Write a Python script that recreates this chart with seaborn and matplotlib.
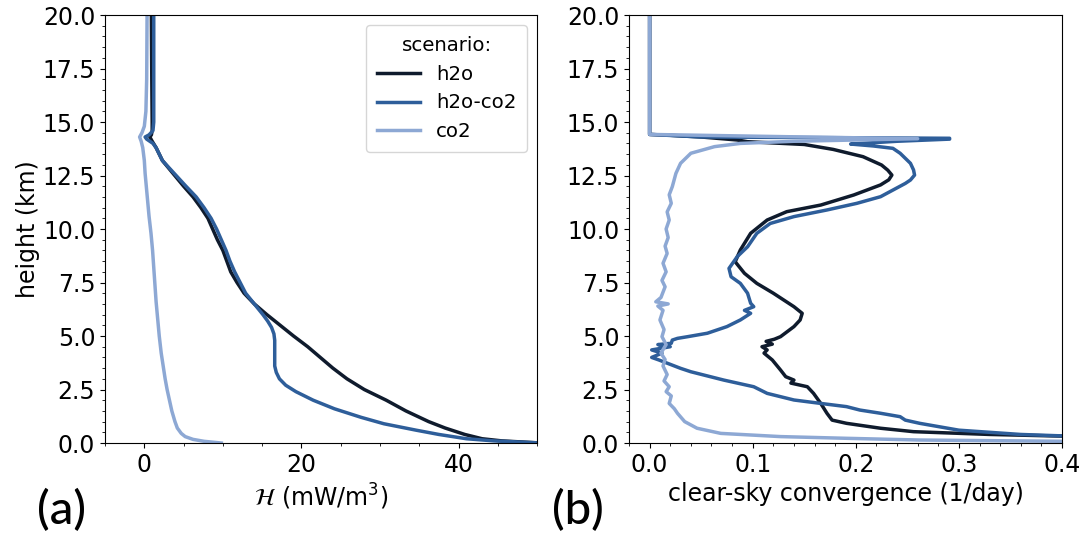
import numpy as np
import pandas as pd
import matplotlib
matplotlib.use("Agg")
import matplotlib.pyplot as plt
from matplotlib.ticker import MultipleLocator, FormatStrFormatter
import seaborn as sns

plt.rcParams["font.family"] = ["DejaVu Sans"]
plt.rcParams["font.size"] = 17
plt.rcParams["mathtext.fontset"] = "dejavusans"

scenarios = ["h2o", "h2o-co2", "co2"]
colors = {"h2o": "#0f1b2d", "h2o-co2": "#2e5e9a", "co2": "#8da8d4"}

# ---- panel (a): heating profiles H (mW/m^3) vs height (km)
a_h2o_z = [20, 17, 15, 14.6, 14.4, 14.3, 14.1, 13.8, 13.5, 13.2, 12.8, 12.4, 12.0,
           11.5, 11.0, 10.5, 10.0, 9.5, 9.0, 8.5, 8.0, 7.5, 7.0, 6.5, 6.0, 5.5,
           5.0, 4.5, 4.0, 3.5, 3.0, 2.5, 2.0, 1.5, 1.0, 0.7, 0.4, 0.2, 0.1, 0.0]
a_h2o_H = [0.9, 0.95, 1.0, 1.0, 0.9, 0.7, 1.0, 1.5, 1.9, 2.3, 3.2, 4.1, 5.0,
           6.2, 7.2, 8.1, 8.7, 9.3, 10.0, 10.5, 11.0, 11.8, 12.7, 14.0, 15.6, 17.3,
           19.0, 20.8, 22.4, 24.0, 25.8, 28.0, 30.8, 33.3, 36.2, 38.3, 40.8, 43.0, 45.5, 50.5]

a_mix_z = [20, 17, 15, 14.6, 14.4, 14.3, 14.2, 14.0, 13.8, 13.5, 13.2, 12.8, 12.4,
           12.0, 11.5, 11.0, 10.5, 10.0, 9.5, 9.0, 8.5, 8.0, 7.5, 7.0, 6.5, 6.0,
           5.7, 5.4, 5.1, 4.8, 4.5, 4.0, 3.6, 3.3, 3.0, 2.7, 2.4, 2.0, 1.6, 1.2,
           0.9, 0.6, 0.4, 0.2, 0.1, 0.0]
a_mix_H = [1.2, 1.2, 1.2, 1.1, 0.6, 0.1, 0.3, 1.1, 1.5, 1.9, 2.3, 3.3, 4.3,
           5.3, 6.6, 7.6, 8.5, 9.2, 9.8, 10.4, 10.9, 11.5, 12.2, 12.9, 14.0, 15.1,
           15.7, 16.2, 16.5, 16.6, 16.6, 16.6, 16.6, 16.8, 17.2, 18.0, 19.3, 21.5, 24.2, 27.6,
           30.5, 34.6, 37.5, 41.0, 44.5, 50.5]

a_co2_z = [20, 17, 15.5, 14.8, 14.5, 14.3, 14.1, 13.8, 13.2, 12.6, 12.0, 11.4, 10.6,
           9.8, 9.0, 8.2, 7.4, 6.6, 5.8, 5.0, 4.2, 3.6, 3.0, 2.5, 2.0, 1.5, 1.0,
           0.7, 0.45, 0.3, 0.17, 0.08, 0.0]
a_co2_H = [0.35, 0.3, 0.2, 0.0, -0.3, -0.6, -0.4, -0.2, 0.0, 0.1, 0.25, 0.4, 0.6,
           0.85, 1.05, 1.2, 1.35, 1.5, 1.7, 1.9, 2.15, 2.4, 2.65, 2.9, 3.2, 3.5, 3.9,
           4.2, 4.7, 5.2, 6.2, 7.6, 9.8]

# ---- panel (b): clear-sky convergence (1/day) vs height (km)
b_h2o_z = [20, 14.42, 14.38, 14.3, 14.16, 14.08, 13.95, 13.72, 13.38, 12.99, 12.75,
           12.52, 12.3, 12.06, 11.59, 11.12, 10.81, 10.42, 9.80, 9.02, 8.47, 7.93,
           7.46, 7.0, 6.37, 6.06, 5.75, 5.44, 4.97, 4.85, 4.75, 4.62, 4.5, 4.35,
           4.2, 3.88, 3.41, 3.1, 2.94, 2.8, 2.63, 2.32, 1.85, 1.39, 1.07, 0.92,
           0.69, 0.53, 0.4, 0.3, 0.1, 0.0]
b_h2o_v = [0, 0, 0.02, 0.05, 0.085, 0.095, 0.15, 0.178, 0.207, 0.225, 0.231,
           0.235, 0.232, 0.224, 0.198, 0.166, 0.133, 0.114, 0.098, 0.088, 0.083, 0.092,
           0.104, 0.120, 0.140, 0.148, 0.146, 0.140, 0.127, 0.121, 0.113, 0.119, 0.109, 0.114,
           0.111, 0.119, 0.127, 0.132, 0.140, 0.137, 0.153, 0.159, 0.166, 0.172, 0.177, 0.191,
           0.224, 0.256, 0.33, 0.42, 0.7, 0.9]

b_mix_z = [20, 14.42, 14.3, 14.24, 14.2, 14.1, 13.97, 13.88, 13.77, 13.54, 13.07,
           12.76, 12.52, 12.29, 12.13, 11.82, 11.51, 11.2, 10.89, 10.58, 10.26, 9.80,
           9.17, 8.71, 8.16, 7.77, 7.46, 7.0, 6.53, 6.37, 6.2, 6.06, 5.75, 5.44,
           5.13, 4.97, 4.89, 4.81, 4.66, 4.6, 4.5, 4.35, 4.2, 4.0, 3.88, 3.49,
           3.33, 2.94, 2.63, 2.32, 2.01, 1.85, 1.70, 1.54, 1.39, 1.23, 1.07, 0.92,
           0.6, 0.4, 0.25, 0.0]
b_mix_v = [0, 0, 0.05, 0.291, 0.291, 0.24, 0.195, 0.217, 0.236, 0.243, 0.253,
           0.256, 0.257, 0.253, 0.248, 0.236, 0.224, 0.201, 0.172, 0.140, 0.117, 0.104,
           0.095, 0.085, 0.077, 0.079, 0.088, 0.095, 0.098, 0.101, 0.092, 0.098, 0.088, 0.075,
           0.056, 0.037, 0.027, 0.022, 0.021, 0.008, 0.020, 0.002, 0.012, 0.002, 0.009, 0.030,
           0.040, 0.072, 0.101, 0.114, 0.140, 0.166, 0.191, 0.204, 0.224, 0.243, 0.248, 0.262,
           0.30, 0.36, 0.45, 0.9]

b_co2_z = [20, 14.42, 14.3, 14.22, 14.1, 14.0, 13.85, 13.54, 13.07, 12.6, 11.98,
           11.6, 11.2, 10.8, 10.42, 10.0, 9.6, 9.2, 8.86, 8.4, 8.0, 7.6, 7.3, 6.8,
           6.6, 6.5, 6.4, 6.2, 5.75, 5.3, 4.97, 4.6, 4.2, 3.9, 3.6, 3.2, 2.9,
           2.63, 2.4, 2.2, 1.85, 1.6, 1.39, 1.0, 0.69, 0.45, 0.30, 0.22, 0.14,
           0.08, 0.0]
b_co2_v = [0, 0, 0.15, 0.26, 0.14, 0.088, 0.063, 0.040, 0.030, 0.0255, 0.022,
           0.019, 0.021, 0.017, 0.019, 0.016, 0.018, 0.015, 0.017, 0.013, 0.016, 0.012, 0.015, 0.011,
           0.006, 0.018, 0.008, 0.013, 0.010, 0.014, 0.012, 0.016, 0.011, 0.015, 0.013, 0.017, 0.014,
           0.019, 0.016, 0.021, 0.019, 0.024, 0.027, 0.034, 0.046, 0.069, 0.127, 0.191, 0.262,
           0.40, 0.6]


def frame(series):
    rows = []
    for name, z, v in series:
        rows.append(pd.DataFrame({"height": z, "value": v, "scenario": name}))
    return pd.concat(rows, ignore_index=True)


df_a = frame([("h2o", a_h2o_z, a_h2o_H), ("h2o-co2", a_mix_z, a_mix_H), ("co2", a_co2_z, a_co2_H)])
df_b = frame([("h2o", b_h2o_z, b_h2o_v), ("h2o-co2", b_mix_z, b_mix_v), ("co2", b_co2_z, b_co2_v)])

fig = plt.figure(figsize=(10.83, 5.40), dpi=100)
ax_a = fig.add_axes([0.0970, 0.1796, 0.3989, 0.7926])
ax_b = fig.add_axes([0.5808, 0.1796, 0.3998, 0.7926])

sns.lineplot(data=df_a, x="value", y="height", hue="scenario", hue_order=scenarios,
             palette=colors, sort=False, estimator=None, lw=2.5, ax=ax_a)
sns.lineplot(data=df_b, x="value", y="height", hue="scenario", hue_order=scenarios,
             palette=colors, sort=False, estimator=None, lw=2.5, ax=ax_b, legend=False)

ax_a.set_xlim(-5, 50)
ax_a.set_ylim(0, 20)
ax_a.xaxis.set_major_locator(MultipleLocator(20))
ax_a.xaxis.set_minor_locator(MultipleLocator(5))
ax_a.xaxis.set_major_formatter(FormatStrFormatter("%d"))
ax_a.set_xlabel(r"$\mathcal{H}$ (mW/m$^3$)")
ax_a.set_ylabel("height (km)", labelpad=2)

ax_b.set_xlim(-0.02, 0.4)
ax_b.set_ylim(0, 20)
ax_b.xaxis.set_major_locator(MultipleLocator(0.1))
ax_b.xaxis.set_minor_locator(MultipleLocator(0.02))
ax_b.xaxis.set_major_formatter(FormatStrFormatter("%.1f"))
ax_b.set_xlabel("clear-sky convergence (1/day)")
ax_b.set_ylabel("")

for ax in (ax_a, ax_b):
    ax.yaxis.set_major_locator(MultipleLocator(2.5))
    ax.yaxis.set_minor_locator(MultipleLocator(0.5))
    ax.yaxis.set_major_formatter(FormatStrFormatter("%.1f"))

ax_a.legend(title="scenario:", loc="upper right", fontsize=14.2, title_fontsize=14.2,
            handlelength=2.2, borderpad=0.55)

fig.text(0.057, 0.054, "(a)", family=["Lato", "DejaVu Sans"], fontsize=34, fontweight="medium",
         ha="center", va="center")
fig.text(0.534, 0.054, "(b)", family=["Lato", "DejaVu Sans"], fontsize=34, fontweight="medium",
         ha="center", va="center")

fig.savefig("out.png", dpi=100)
